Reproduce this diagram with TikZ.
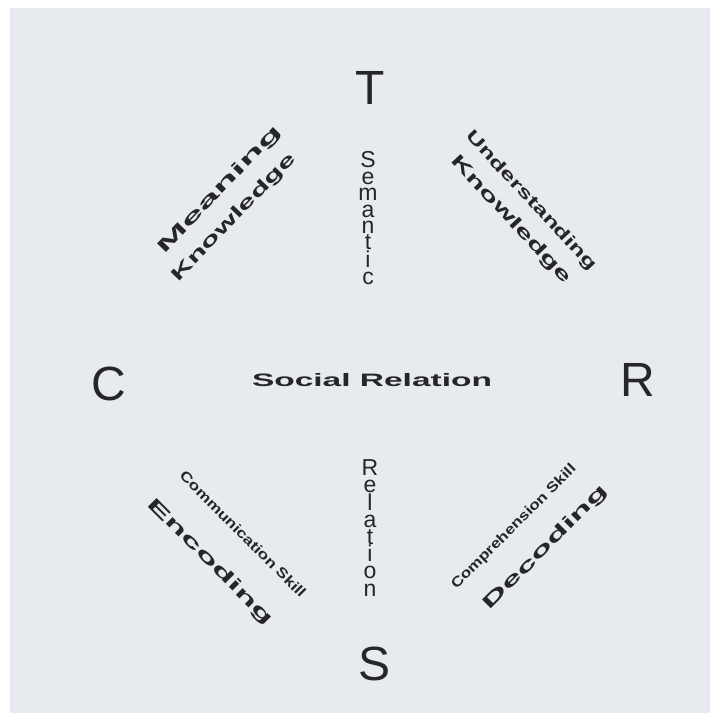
\documentclass[tikz,border=0pt]{standalone}
\usepackage{fontspec}
\setmainfont{Liberation Sans}
\usepackage{tikz}
\definecolor{paper}{RGB}{231,234,238}
\definecolor{ink}{RGB}{38,38,40}
\tikzset{corner/.style={inner sep=0pt, text=ink, font=\fontsize{48}{48}\selectfont}}
\tikzset{wide/.style={inner sep=0pt, text=ink, font=\fontsize{18}{18}\selectfont\bfseries}}
\tikzset{skill/.style={inner sep=0pt, text=ink, font=\fontsize{14}{14}\selectfont\bfseries}}
\tikzset{stack/.style={inner sep=0pt, text=ink, align=center, font=\fontsize{23}{16.4}\selectfont}}

\begin{document}
\begin{tikzpicture}[x=1pt, y=-1pt]
    \useasboundingbox (0,0) rectangle (710,713);
    \fill[white] (0,0) rectangle (710,713);
    \fill[paper] (10,8) rectangle (710,713);
    % the four corners
    \node[corner] (T) at (370,88) {T};
    \node[corner] (C) at (109,384) {C};
    \node[corner] (R) at (638,380) {R};
    \node[corner] (S) at (375,664) {S};
    % middle
    \node[stack] (semantic) at (368,218) {S\\e\\m\\a\\n\\t\\i\\c};
    \node[stack, font=\fontsize{23}{17.2}\selectfont] (relation) at (370,528) {R\\e\\l\\a\\t\\i\\o\\n};
    \node[wide, xscale=1.86] (social) at (372,380) {Social Relation};
    % T -- C
    \node[wide, rotate=46, xscale=2.33] (meaning) at (220,190) {Meaning};
    \node[wide, rotate=46, xscale=1.77] (knowC) at (234,218) {Knowledge};
    % T -- R
    \node[wide, rotate=-47, font=\fontsize{17}{17}\selectfont\bfseries, xscale=1.53] (underst) at (531,201) {Understanding};
    \node[wide, rotate=-47, xscale=1.75] (knowR) at (511,220) {Knowledge};
    % C -- S
    \node[skill, rotate=-45, xscale=1.24] (commun) at (243,534) {Communication Skill};
    \node[wide, rotate=-45, xscale=2.07] (encoding) at (210,562) {Encoding};
    % S -- R
    \node[skill, rotate=45, xscale=1.22] (compr) at (514,527) {Comprehension Skill};
    \node[wide, rotate=45, xscale=2.05] (decoding) at (546,548) {Decoding};
\end{tikzpicture}
\end{document}
